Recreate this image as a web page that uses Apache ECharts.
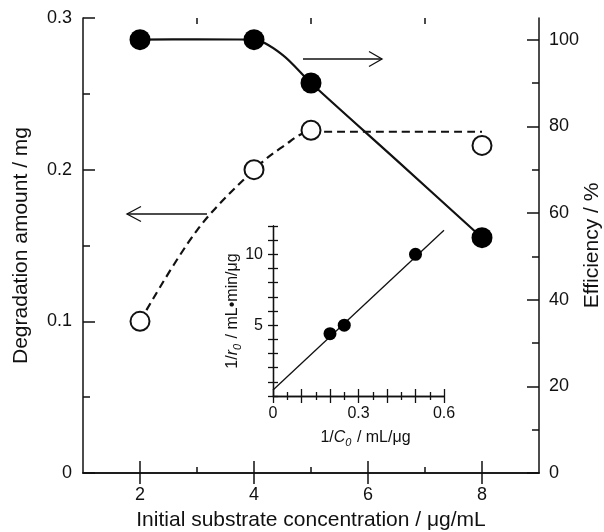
<!DOCTYPE html>
<html>
<head>
<meta charset="utf-8">
<script src="https://cdn.jsdelivr.net/npm/echarts@6/dist/echarts.min.js"></script>
<style>
  html, body { margin: 0; padding: 0; background: #fff; }
  #chart { width: 604px; height: 532px; }
</style>
</head>
<body>
<div id="chart"></div>
<script>
// main chart: measured points
const concentration = [2, 4, 5, 8];
const degradation = [0.1, 0.2, 0.226, 0.216];   // left axis, open circles
const efficiency = [100, 100, 90, 54.3];        // right axis, filled circles

// guide curves
const degradationCurve = [[2, 0.1], [3, 0.16], [4, 0.2], [4.5, 0.215], [5, 0.225], [6.5, 0.225], [8, 0.225]];
const efficiencyCurve = [[2, 100], [3, 100.1], [4, 100], [4.5, 96.5], [5, 90], [6.5, 72.2], [8, 54.3]];

// inset: Lineweaver-Burk plot
const invC0 = [0.2, 0.25, 0.5];
const invR0 = [4.4, 5.0, 10.0];
const fitLine = [[0, 0.42], [0.6, 11.7]];

// ticks
const xMajor = [2, 4, 6, 8];
const xMinor = [3, 5, 7];
const effMajor = [0, 20, 40, 60, 80, 100];
const effMinor = [10, 30, 50, 70, 90];

const font = "'Liberation Sans', Arial, sans-serif";
const ink = '#111';

const chart = echarts.init(document.getElementById('chart'));

function pairs(xs, ys) {
  return xs.map((x, i) => [x, ys[i]]);
}

const axisLine = { show: true, lineStyle: { color: ink, width: 1.5 } };

// italic symbol with subscript 0, used by both inset axis names
const insetRich = {
  n: { fontSize: 16, fontFamily: font, color: ink, lineHeight: 20, verticalAlign: 'middle' },
  i: { fontSize: 16, fontStyle: 'italic', fontFamily: font, color: ink, lineHeight: 20, verticalAlign: 'middle' },
  s: { fontSize: 11, fontStyle: 'italic', fontFamily: font, color: ink, lineHeight: 20, verticalAlign: 'bottom', padding: [0, 1, 0, 0] }
};

const option = {
  animation: false,
  textStyle: { fontFamily: font, color: ink },
  grid: [
    { left: 83, top: 18, width: 456, height: 455, outerBoundsMode: 'none', containLabel: false },
    { left: 273, top: 226, width: 171, height: 170, outerBoundsMode: 'none', containLabel: false,
      show: true, backgroundColor: '#fff', borderWidth: 0 }
  ],
  xAxis: [
    {
      gridIndex: 0, type: 'value', min: 1, max: 9, position: 'bottom',
      axisLine: axisLine,
      axisTick: { inside: true, length: 12, customValues: xMajor, lineStyle: { color: ink, width: 1.5 } },
      axisLabel: { customValues: xMajor, fontSize: 18, margin: 13, color: ink, fontFamily: font },
      splitLine: { show: false },
      name: 'Initial substrate concentration / μg/mL',
      nameLocation: 'middle', nameGap: 37, nameMoveOverlap: false,
      nameTextStyle: { fontSize: 21, color: ink, fontFamily: font }
    },
    {
      gridIndex: 0, type: 'value', min: 1, max: 9, position: 'bottom',
      axisLine: { show: false },
      axisTick: { inside: true, length: 6, customValues: xMinor, lineStyle: { color: ink, width: 1.5 } },
      axisLabel: { show: false }, splitLine: { show: false }
    },
    {
      gridIndex: 0, type: 'value', min: 1, max: 9, position: 'top',
      axisLine: axisLine,
      axisTick: { inside: true, length: 11, customValues: xMajor, lineStyle: { color: ink, width: 1.5 } },
      axisLabel: { show: false }, splitLine: { show: false }
    },
    {
      gridIndex: 0, type: 'value', min: 1, max: 9, position: 'top',
      axisLine: { show: false },
      axisTick: { inside: true, length: 6, customValues: xMinor, lineStyle: { color: ink, width: 1.5 } },
      axisLabel: { show: false }, splitLine: { show: false }
    },
    {
      gridIndex: 1, type: 'value', min: 0, max: 0.6, interval: 0.1, position: 'bottom',
      axisLine: { show: true, lineStyle: { color: ink, width: 1.3 } },
      axisTick: { inside: true, length: 7, lineStyle: { color: ink, width: 1.3 } },
      minorTick: { show: true, splitNumber: 2, length: 4, lineStyle: { color: ink, width: 1.3 } },
      axisLabel: {
        fontSize: 16, margin: 10, color: ink, fontFamily: font,
        formatter: v => {
          if (Math.abs(v) < 1e-9) return '0';
          if (Math.abs(v - 0.3) < 1e-9) return '0.3';
          if (Math.abs(v - 0.6) < 1e-9) return '0.6';
          return '';
        }
      },
      splitLine: { show: false }, minorSplitLine: { show: false },
      name: '{n|1/}{i|C}{s|0}{n| / mL/μg}',
      nameLocation: 'middle', nameGap: 32, nameMoveOverlap: false,
      nameTextStyle: { fontFamily: font, color: ink, padding: [0, 0, 0, 14], rich: insetRich }
    },
    {
      gridIndex: 1, type: 'value', min: 0, max: 0.6, interval: 0.1, position: 'top',
      axisLine: { show: true, lineStyle: { color: ink, width: 1.3 } },
      axisTick: { inside: true, length: 7, lineStyle: { color: ink, width: 1.3 } },
      minorTick: { show: true, splitNumber: 2, length: 4, lineStyle: { color: ink, width: 1.3 } },
      axisLabel: { show: false }, splitLine: { show: false }, minorSplitLine: { show: false }
    }
  ],
  yAxis: [
    {
      gridIndex: 0, type: 'value', min: 0, max: 0.3, interval: 0.1, position: 'left',
      axisLine: axisLine,
      axisTick: { inside: true, length: 12, lineStyle: { color: ink, width: 1.5 } },
      minorTick: { show: true, splitNumber: 2, length: 7, lineStyle: { color: ink, width: 1.5 } },
      axisLabel: {
        fontSize: 18, margin: 11, color: ink, fontFamily: font,
        formatter: v => (v === 0 ? '0' : v.toFixed(1))
      },
      splitLine: { show: false }, minorSplitLine: { show: false },
      name: 'Degradation amount / mg',
      nameLocation: 'middle', nameGap: 51, nameMoveOverlap: false,
      nameTextStyle: { fontSize: 21, color: ink, fontFamily: font }
    },
    {
      gridIndex: 0, type: 'value', min: 0, max: 105, position: 'right',
      axisLine: axisLine,
      axisTick: { inside: true, length: 12, customValues: effMajor, lineStyle: { color: ink, width: 1.5 } },
      axisLabel: { customValues: effMajor, fontSize: 18, margin: 10, color: ink, fontFamily: font },
      splitLine: { show: false },
      name: 'Efficiency / %',
      nameLocation: 'middle', nameGap: 43, nameMoveOverlap: false,
      nameTextStyle: { fontSize: 21, color: ink, fontFamily: font }
    },
    {
      gridIndex: 0, type: 'value', min: 0, max: 105, position: 'right',
      axisLine: { show: false },
      axisTick: { inside: true, length: 7, customValues: effMinor, lineStyle: { color: ink, width: 1.5 } },
      axisLabel: { show: false }, splitLine: { show: false }
    },
    {
      gridIndex: 1, type: 'value', min: 0, max: 12, interval: 1, position: 'left',
      axisLine: { show: true, lineStyle: { color: ink, width: 1.3 } },
      axisTick: { inside: true, length: 5, lineStyle: { color: ink, width: 1.3 } },
      axisLabel: {
        fontSize: 16, margin: 10, color: ink, fontFamily: font,
        formatter: v => (v === 5 || v === 10 ? String(v) : '')
      },
      splitLine: { show: false },
      name: '{n|1/}{i|r}{s|0}{n| / mL•min/μg}',
      nameLocation: 'middle', nameGap: 30, nameMoveOverlap: false,
      nameTextStyle: { fontFamily: font, color: ink, rich: insetRich }
    },
    {
      gridIndex: 1, type: 'value', min: 0, max: 12, interval: 1, position: 'right',
      axisLine: { show: true, lineStyle: { color: ink, width: 1.3 } },
      axisTick: { inside: true, length: 5, lineStyle: { color: ink, width: 1.3 } },
      axisLabel: { show: false }, splitLine: { show: false }
    }
  ],
  series: [
    {
      name: 'degradation curve', type: 'line', xAxisIndex: 0, yAxisIndex: 0,
      data: degradationCurve, smooth: 0.35, showSymbol: false, silent: true, z: 2,
      lineStyle: { color: ink, width: 2.2, type: [8, 5] }
    },
    {
      name: 'efficiency curve', type: 'line', xAxisIndex: 0, yAxisIndex: 1,
      data: efficiencyCurve, smooth: 0.3, showSymbol: false, silent: true, z: 2,
      lineStyle: { color: ink, width: 2.2 }
    },
    {
      name: 'Degradation amount', type: 'scatter', xAxisIndex: 0, yAxisIndex: 0,
      data: pairs(concentration, degradation), symbol: 'circle', symbolSize: 19, z: 3,
      itemStyle: { color: '#fff', borderColor: ink, borderWidth: 2, opacity: 1 }
    },
    {
      name: 'Efficiency', type: 'scatter', xAxisIndex: 0, yAxisIndex: 1,
      data: pairs(concentration, efficiency), symbol: 'circle', symbolSize: 21, z: 3,
      itemStyle: { color: '#000', opacity: 1 }
    },
    {
      name: 'fit', type: 'line', xAxisIndex: 4, yAxisIndex: 3,
      data: fitLine, showSymbol: false, silent: true, z: 4,
      lineStyle: { color: ink, width: 1.3 }
    },
    {
      name: '1/r0', type: 'scatter', xAxisIndex: 4, yAxisIndex: 3,
      data: pairs(invC0, invR0), symbol: 'circle', symbolSize: 13, z: 5,
      itemStyle: { color: '#000', opacity: 1 }
    }
  ],
  graphic: [
    // arrow toward the right axis
    { type: 'line', shape: { x1: 303, y1: 59, x2: 382, y2: 59 }, style: { stroke: ink, lineWidth: 1.3 } },
    { type: 'polyline', shape: { points: [[369, 51.5], [382, 59], [369, 66.5]] }, style: { stroke: ink, lineWidth: 1.3, fill: null } },
    // arrow toward the left axis
    { type: 'line', shape: { x1: 127, y1: 214, x2: 207, y2: 214 }, style: { stroke: ink, lineWidth: 1.3 } },
    { type: 'polyline', shape: { points: [[141, 206.5], [127, 214], [141, 221.5]] }, style: { stroke: ink, lineWidth: 1.3, fill: null } }
  ]
};

chart.setOption(option);
</script>
</body>
</html>
